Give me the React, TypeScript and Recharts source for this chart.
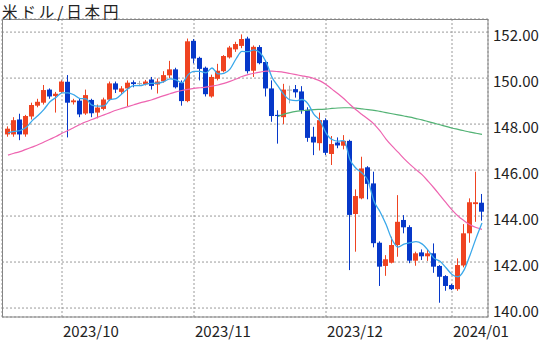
import React from 'react';
import { ComposedChart, Bar, Line, XAxis, YAxis, CartesianGrid } from 'recharts';

// 米ドル/日本円 daily candles, 2023/09/19 - 2024/01/08
const dates = [
  '2023/09/19', '2023/09/20', '2023/09/21', '2023/09/22', '2023/09/25', '2023/09/26', '2023/09/27', '2023/09/28', '2023/09/29',
  '2023/10/02', '2023/10/03', '2023/10/04', '2023/10/05', '2023/10/06', '2023/10/09', '2023/10/10', '2023/10/11', '2023/10/12',
  '2023/10/13', '2023/10/16', '2023/10/17', '2023/10/18', '2023/10/19', '2023/10/20', '2023/10/23', '2023/10/24', '2023/10/25',
  '2023/10/26', '2023/10/27', '2023/10/30', '2023/10/31',
  '2023/11/01', '2023/11/02', '2023/11/03', '2023/11/06', '2023/11/07', '2023/11/08', '2023/11/09', '2023/11/10', '2023/11/13',
  '2023/11/14', '2023/11/15', '2023/11/16', '2023/11/17', '2023/11/20', '2023/11/21', '2023/11/22', '2023/11/23', '2023/11/24',
  '2023/11/27', '2023/11/28', '2023/11/29', '2023/11/30',
  '2023/12/01', '2023/12/04', '2023/12/05', '2023/12/06', '2023/12/07', '2023/12/08', '2023/12/11', '2023/12/12', '2023/12/13',
  '2023/12/14', '2023/12/15', '2023/12/18', '2023/12/19', '2023/12/20', '2023/12/21', '2023/12/22', '2023/12/25', '2023/12/26',
  '2023/12/27', '2023/12/28', '2023/12/29',
  '2024/01/01', '2024/01/02', '2024/01/03', '2024/01/04', '2024/01/05', '2024/01/08',
];

const open = [
  147.55, 147.55, 148.2, 147.55, 148.33, 148.8, 148.93, 149.5, 149.22,
  149.4, 149.84, 148.95, 149.02, 148.46, 149.05, 148.5, 148.66, 149.06,
  149.77, 149.4, 149.55, 149.82, 149.78, 149.73, 149.94, 149.72, 149.86,
  150.12, 150.38, 149.8, 149.0,
  151.62, 150.88, 150.45, 149.2, 149.97, 150.3, 150.9, 151.25, 151.4,
  151.72, 150.32, 151.35, 150.7, 149.55, 148.4, 148.3, 149.5, 149.52,
  149.42, 148.62, 147.45, 147.17,
  148.17, 146.7, 147.2, 147.06, 147.27, 144.09, 144.77, 146.12, 145.42,
  142.84, 141.83, 141.97, 142.74, 143.83, 143.52, 142.06, 142.42, 142.25,
  142.38, 141.83, 141.39,
  141.0, 140.82, 141.85, 143.25, 144.52, 144.58,
];

const high = [
  147.9, 148.3, 148.45, 148.4, 148.93, 149.1, 149.7, 149.55, 149.4,
  149.9, 150.13, 149.1, 149.1, 149.5, 149.1, 148.85, 149.15, 149.85,
  149.85, 149.65, 149.9, 149.9, 149.88, 149.92, 150.05, 149.98, 150.3,
  150.75, 150.45, 149.9, 151.72,
  151.7, 150.93, 150.5, 150.15, 150.62, 151.0, 151.4, 151.58, 151.9,
  151.8, 151.42, 151.43, 150.78, 149.9, 148.6, 149.75, 149.67, 149.7,
  149.65, 148.73, 147.88, 148.5,
  148.25, 147.48, 147.42, 147.52, 147.32, 145.16, 146.58, 146.17, 145.93,
  142.9, 142.3, 143.1, 144.91, 144.04, 143.6, 142.45, 142.55, 142.55,
  142.81, 141.87, 141.43,
  141.05, 142.16, 143.65, 144.77, 145.93, 144.96,
];

const low = [
  147.45, 147.45, 147.3, 147.45, 148.2, 148.73, 148.85, 149.1, 148.5,
  149.35, 147.42, 148.85, 148.3, 148.4, 148.3, 148.25, 148.6, 149.0,
  149.35, 149.3, 148.78, 149.6, 149.65, 149.68, 149.5, 149.33, 149.8,
  150.0, 149.55, 148.8, 148.95,
  150.64, 149.9, 149.2, 149.15, 149.9, 150.25, 150.85, 151.14, 151.3,
  150.2, 150.05, 150.6, 149.2, 148.1, 147.15, 148.0, 148.9, 149.15,
  148.45, 147.23, 146.65, 146.85,
  146.65, 146.22, 146.95, 146.9, 141.65, 142.45, 144.73, 144.73, 142.64,
  140.96, 141.4, 141.94, 142.23, 143.25, 141.95, 141.84, 142.09, 142.05,
  141.53, 140.23, 140.75,
  140.78, 140.75, 141.77, 142.84, 143.75, 143.8,
];

const close = [
  147.8, 148.17, 147.55, 148.35, 148.83, 148.97, 149.48, 149.2, 149.32,
  149.85, 148.93, 149.03, 148.42, 149.26, 148.47, 148.72, 149.07, 149.77,
  149.5, 149.55, 149.8, 149.74, 149.78, 149.85, 149.66, 149.85, 150.13,
  150.38, 149.6, 149.0, 151.6,
  150.85, 150.4, 149.3, 150.05, 150.32, 150.96, 151.33, 151.48, 151.7,
  150.3, 151.36, 150.65, 149.55, 148.35, 148.35, 149.5, 149.5, 149.38,
  148.6, 147.4, 147.2, 148.17,
  146.75, 147.13, 147.07, 147.27, 144.05, 144.87, 146.07, 145.4, 142.82,
  141.8, 142.12, 142.74, 143.75, 143.51, 142.06, 142.38, 142.25, 142.38,
  141.8, 141.36, 140.96,
  140.82, 141.87, 143.25, 144.6, 144.6, 144.19,
];

// moving averages (light blue, pink, green)
const maShort = [
  147.62, 147.68, 147.72, 147.85, 148.14, 148.37, 148.64, 148.97, 149.16,
  149.36, 149.36, 149.27, 149.11, 149.1, 148.82, 148.78, 148.79, 149.06,
  149.11, 149.32, 149.54, 149.67, 149.67, 149.74, 149.77, 149.78, 149.85,
  149.97, 149.92, 149.79, 150.14,
  150.29, 150.29, 150.23, 150.44, 150.18, 150.21, 150.39, 150.83, 151.16,
  151.15, 151.23, 151.1, 150.71, 150.04, 149.65, 149.28, 149.05, 149.02,
  149.07, 148.88, 148.42, 148.15,
  147.62, 147.33, 147.26, 147.28, 146.45, 146.08, 145.87, 145.53, 144.64,
  144.19, 143.64, 142.98, 142.65, 142.78, 142.84, 142.89, 142.79, 142.52,
  142.17, 142.03, 141.75,
  141.46, 141.36, 141.65, 142.3, 143.03, 143.7,
];

const maMid = [
  146.65, 146.73, 146.8, 146.9, 147.0, 147.1, 147.22, 147.34, 147.46,
  147.6, 147.72, 147.85, 147.98, 148.1, 148.2, 148.3, 148.4, 148.5,
  148.6, 148.68, 148.76, 148.84, 148.92, 148.99, 149.06, 149.15, 149.24,
  149.32, 149.4, 149.46, 149.51,
  149.55, 149.58, 149.61, 149.65, 149.7, 149.77, 149.86, 149.96, 150.07,
  150.15, 150.21, 150.26, 150.3, 150.3, 150.28, 150.25, 150.2, 150.15,
  150.1, 150.05, 149.98, 149.88,
  149.72, 149.52, 149.32, 149.1, 148.85, 148.62, 148.42, 148.22, 148.0,
  147.7, 147.35, 147.05, 146.78, 146.5, 146.25, 146.02, 145.8, 145.52,
  145.22, 144.9, 144.58,
  144.27, 144.0, 143.8, 143.62, 143.5, 143.42,
];

const maLong = [
  null, null, null, null, null, null, null, null, null,
  null, null, null, null, null, null, null, null, null,
  null, null, null, null, null, null, null, null, null,
  null, null, null, null,
  null, null, null, null, null, null, null, null, null,
  null, null, null, null, null, 148.33, 148.43, 148.5, 148.55,
  148.58, 148.61, 148.63, 148.64,
  148.65, 148.68, 148.7, 148.71, 148.71, 148.69, 148.66, 148.63, 148.6,
  148.55, 148.5, 148.45, 148.4, 148.35, 148.3, 148.24, 148.18, 148.11,
  148.04, 147.97, 147.9,
  147.83, 147.77, 147.71, 147.65, 147.6, 147.55,
];

const priceTicks = [140, 142, 144, 146, 148, 150, 152];
const monthTicks = [9, 31, 53, 74]; // indexes of first trading day of each month

const data = dates.map((date, i) => ({
  i,
  date,
  open: open[i],
  high: high[i],
  low: low[i],
  close: close[i],
  maShort: maShort[i],
  maMid: maMid[i],
  maLong: maLong[i],
}));

const UP = '#ef4321';
const DOWN = '#0638c9';
const FLAT = '#a8a8a8';
const FONT = "'Noto Sans CJK JP', 'Noto Sans', sans-serif";

const Candle = (props: any) => {
  const { x, y, width, height, payload } = props;
  if (x == null || y == null || !payload) return null;
  const { open, close, high, low } = payload;
  const top = Math.min(y, y + height);
  const h = Math.abs(height);
  const k = high === low ? 0 : h / (high - low);
  const py = (v: number) => top + (high - v) * k;
  const color = close > open ? UP : close < open ? DOWN : FLAT;
  const left = Math.round(x);
  const cx = left + Math.floor(width / 2) + 0.5;
  const bTop = py(Math.max(open, close));
  const bBot = py(Math.min(open, close));
  return (
    <g>
      <line x1={cx} x2={cx} y1={top} y2={top + h} stroke={color} strokeWidth={1} />
      <rect x={left} y={bTop} width={width} height={Math.max(1, bBot - bTop)} fill={color} />
    </g>
  );
};

const PriceTick = (props: any) => {
  const { x, y, payload } = props;
  return (
    <text x={x} y={y + 9} textAnchor="start" fontSize={15} fontFamily={FONT} fill="#222">
      {Number(payload.value).toFixed(2)}
    </text>
  );
};

const MonthTick = (props: any) => {
  const { x, y, payload } = props;
  return (
    <text x={x + 1} y={y + 20} textAnchor="start" fontSize={15} fontFamily={FONT} fill="#222">
      {dates[payload.value].slice(0, 7)}
    </text>
  );
};

export default function App() {
  return (
    <div style={{ position: 'absolute', left: 0, top: 0, width: 560, height: 344, background: '#fff' }}>
      <ComposedChart width={560} height={344} data={data} margin={{ top: 19, right: 0, bottom: 0, left: 2 }}>
        <CartesianGrid stroke="#9a9a9a" strokeDasharray="2 2" />
        <XAxis
          dataKey="i"
          type="number"
          domain={[-1, 80]}
          ticks={monthTicks}
          allowDataOverflow
          axisLine={false}
          tickLine={false}
          tickSize={0}
          tickMargin={0}
          height={27}
          tick={<MonthTick />}
        />
        <YAxis
          orientation="right"
          type="number"
          domain={[139.61, 152.57]}
          ticks={priceTicks}
          allowDataOverflow
          axisLine={false}
          tickLine={false}
          tickSize={0}
          tickMargin={5}
          width={72}
          tick={<PriceTick />}
        />
        <Bar
          dataKey={(d: any) => [d.low, d.high]}
          barSize={5}
          shape={(p: any) => <Candle {...p} />}
          isAnimationActive={false}
        />
        <Line type="monotone" dataKey="maLong" stroke="#52b274" strokeWidth={1.2} dot={false} isAnimationActive={false} />
        <Line type="monotone" dataKey="maMid" stroke="#ee64b0" strokeWidth={1.2} dot={false} isAnimationActive={false} />
        <Line type="monotone" dataKey="maShort" stroke="#3aa8ea" strokeWidth={1.3} dot={false} isAnimationActive={false} />
      </ComposedChart>
      <svg width={560} height={344} style={{ position: 'absolute', left: 0, top: 0, pointerEvents: 'none' }}>
        <rect x={2.5} y={19.5} width={485.5} height={297.5} fill="none" stroke="#858585" strokeWidth={1} />
        <text x={2} y={18} fontSize={15.5} letterSpacing={2.9} fontFamily={FONT} fill="#222">米ドル/日本円</text>
      </svg>
    </div>
  );
}
